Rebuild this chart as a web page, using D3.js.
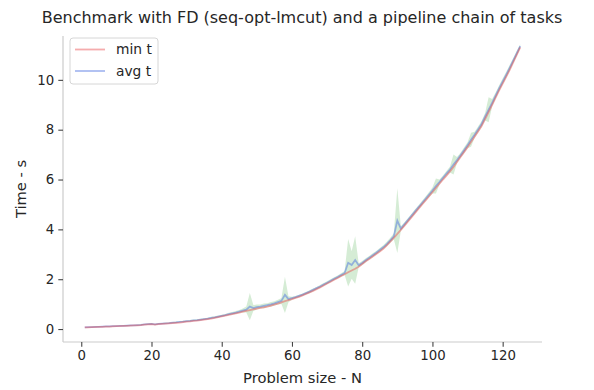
<!DOCTYPE html>
<html>
<head>
<meta charset="utf-8">
<script src="https://cdn.jsdelivr.net/npm/d3@7"></script>
<style>
  body { margin: 0; background: #fff; }
  svg text { font-family: "DejaVu Sans", sans-serif; fill: #262626; }
</style>
</head>
<body>
<div id="chart"></div>
<script>
const sizes = [1,2,3,4,5,6,7,8,9,10,11,12,13,14,15,16,17,18,19,20,21,22,23,24,25,26,27,28,29,30,
  31,32,33,34,35,36,37,38,39,40,41,42,43,44,45,46,47,48,49,50,51,52,53,54,55,56,57,58,59,60,
  61,62,63,64,65,66,67,68,69,70,71,72,73,74,75,76,77,78,79,80,81,82,83,84,85,86,87,88,89,90,
  91,92,93,94,95,96,97,98,99,100,101,102,103,104,105,106,107,108,109,110,111,112,113,114,115,
  116,117,118,119,120,121,122,123,124,125];

const minT = [0.07,0.07,0.08,0.08,0.09,0.09,0.10,0.10,0.11,0.12,
  0.12,0.13,0.13,0.14,0.15,0.15,0.16,0.18,0.19,0.20,
  0.18,0.20,0.21,0.22,0.23,0.24,0.25,0.26,0.28,0.30,
  0.31,0.33,0.34,0.36,0.38,0.40,0.42,0.45,0.48,0.51,
  0.54,0.57,0.60,0.63,0.66,0.70,0.73,0.76,0.79,0.82,
  0.85,0.87,0.90,0.94,0.98,1.02,1.07,1.12,1.16,1.20,
  1.25,1.29,1.35,1.41,1.47,1.53,1.60,1.67,1.75,1.83,
  1.90,1.98,2.05,2.13,2.20,2.28,2.35,2.42,2.50,2.61,
  2.72,2.81,2.91,3.01,3.11,3.22,3.36,3.51,3.66,3.82,
  3.98,4.14,4.31,4.48,4.65,4.82,4.99,5.15,5.32,5.49,
  5.66,5.83,6.00,6.16,6.33,6.50,6.70,6.90,7.10,7.30,
  7.51,7.72,7.93,8.15,8.43,8.71,9.00,9.29,9.58,9.85,
  10.12,10.40,10.70,11.00,11.30];

const avgT = [0.07,0.08,0.08,0.09,0.09,0.10,0.11,0.11,0.12,0.12,
  0.13,0.13,0.14,0.15,0.15,0.16,0.17,0.19,0.20,0.21,
  0.19,0.21,0.22,0.23,0.24,0.26,0.27,0.29,0.30,0.32,
  0.33,0.35,0.36,0.38,0.40,0.42,0.45,0.47,0.50,0.53,
  0.56,0.60,0.63,0.66,0.70,0.74,0.78,0.90,0.84,0.88,
  0.90,0.93,0.96,0.99,1.03,1.08,1.13,1.37,1.20,1.24,
  1.28,1.33,1.38,1.44,1.50,1.57,1.64,1.71,1.79,1.86,
  1.94,2.02,2.09,2.17,2.25,2.66,2.57,2.77,2.56,2.65,
  2.76,2.86,2.96,3.06,3.17,3.28,3.41,3.56,3.72,4.35,
  4.03,4.20,4.37,4.54,4.71,4.88,5.05,5.22,5.39,5.56,
  5.74,5.90,6.07,6.24,6.40,6.60,6.78,6.97,7.17,7.38,
  7.60,7.80,8.01,8.23,8.52,8.80,9.08,9.37,9.66,9.93,
  10.20,10.48,10.77,11.06,11.35];

const stdT = [0.005,0.005,0.01,0.01,0.01,0.01,0.015,0.01,0.01,0.01,
  0.01,0.015,0.02,0.015,0.01,0.015,0.02,0.015,0.02,0.02,
  0.015,0.02,0.02,0.02,0.02,0.025,0.03,0.02,0.03,0.025,
  0.03,0.03,0.03,0.035,0.03,0.035,0.04,0.04,0.04,0.04,
  0.04,0.05,0.05,0.06,0.06,0.08,0.12,0.55,0.12,0.10,
  0.08,0.10,0.08,0.10,0.09,0.10,0.12,0.73,0.12,0.06,
  0.05,0.05,0.05,0.05,0.06,0.06,0.05,0.06,0.06,0.06,
  0.06,0.06,0.06,0.07,0.08,0.95,0.55,0.95,0.08,0.08,
  0.08,0.07,0.08,0.07,0.08,0.08,0.09,0.10,0.12,1.30,
  0.10,0.08,0.08,0.08,0.09,0.08,0.09,0.09,0.10,0.12,
  0.30,0.10,0.09,0.10,0.12,0.40,0.12,0.10,0.12,0.12,
  0.28,0.12,0.12,0.12,0.15,0.50,0.15,0.12,0.12,0.12,
  0.12,0.12,0.10,0.10,0.08];

const xTicks = [0, 20, 40, 60, 80, 100, 120];
const yTicks = [0, 2, 4, 6, 8, 10];
const seriesNames = ["min t", "avg t"];

const width = 594, height = 390;
const padLeft = 63, padRight = 542, padTop = 36, padBottom = 342;

const svg = d3.select('#chart').append('svg')
  .attr('width', width)
  .attr('height', height);

const x = d3.scaleLinear().domain([-5.2, 131.2]).range([padLeft, padRight]);
const y = d3.scaleLinear().domain([-0.52, 11.76]).range([padBottom, padTop]);

const rows = sizes.map((n, i) => ({ n: n, min: minT[i], avg: avgT[i], sd: stdT[i] }));

// std band round the average
svg.append('path')
  .datum(rows)
  .attr('fill', '#2ca02c')
  .attr('fill-opacity', 0.2)
  .attr('d', d3.area()
    .x(d => x(d.n))
    .y0(d => y(d.avg - d.sd))
    .y1(d => y(d.avg + d.sd)));

svg.append('path')
  .datum(rows)
  .attr('fill', 'none')
  .attr('stroke', '#4169e1')
  .attr('stroke-opacity', 0.45)
  .attr('stroke-width', 1.8)
  .attr('d', d3.line().x(d => x(d.n)).y(d => y(d.avg)));

svg.append('path')
  .datum(rows)
  .attr('fill', 'none')
  .attr('stroke', '#e8474a')
  .attr('stroke-opacity', 0.45)
  .attr('stroke-width', 1.8)
  .attr('d', d3.line().x(d => x(d.n)).y(d => y(d.min)));

// axes
const xAxis = svg.append('g')
  .attr('transform', `translate(0,${padBottom})`)
  .call(d3.axisBottom(x).tickValues(xTicks).tickSize(4.7).tickPadding(4.2));
const yAxis = svg.append('g')
  .attr('transform', `translate(${padLeft},0)`)
  .call(d3.axisLeft(y).tickValues(yTicks).tickSize(4.7).tickPadding(4.2));

[xAxis, yAxis].forEach(g => {
  g.select('.domain').attr('stroke', '#cccccc').attr('stroke-width', 1.2);
  g.selectAll('.tick line').attr('stroke', '#444').attr('stroke-width', 1.1);
  g.selectAll('.tick text').style('font-size', '13.3px').attr('fill', '#262626')
    .style('font-family', '"DejaVu Sans", sans-serif');
});
xAxis.select('.domain').attr('d', `M${padLeft},0H${padRight}`);
yAxis.select('.domain').attr('d', `M0,${padBottom}V${padTop}`);

// labels
svg.append('text')
  .attr('x', 302).attr('y', 22.5)
  .attr('text-anchor', 'middle')
  .style('font-size', '16px')
  .text('Benchmark with FD (seq-opt-lmcut) and a pipeline chain of tasks');

svg.append('text')
  .attr('x', (padLeft + padRight) / 2).attr('y', 382.5)
  .attr('text-anchor', 'middle')
  .style('font-size', '14.7px')
  .text('Problem size - N');

svg.append('text')
  .attr('transform', `translate(26,${(padTop + padBottom) / 2}) rotate(-90)`)
  .attr('text-anchor', 'middle')
  .style('font-size', '14.7px')
  .text('Time - s');

// legend
const legend = svg.append('g');
legend.append('rect')
  .attr('x', 70).attr('y', 38).attr('width', 88).attr('height', 46)
  .attr('rx', 3)
  .attr('fill', '#fff').attr('fill-opacity', 0.8)
  .attr('stroke', '#d6d6d6');
const legColors = ['#e8474a', '#4169e1'];
seriesNames.forEach((name, i) => {
  const ly = 49.5 + i * 21.5;
  legend.append('line')
    .attr('x1', 75).attr('x2', 105).attr('y1', ly).attr('y2', ly)
    .attr('stroke', legColors[i]).attr('stroke-opacity', 0.45).attr('stroke-width', 1.8);
  legend.append('text')
    .attr('x', 116).attr('y', ly).attr('dy', '0.35em')
    .style('font-size', '13.8px')
    .text(name);
});
</script>
</body>
</html>
